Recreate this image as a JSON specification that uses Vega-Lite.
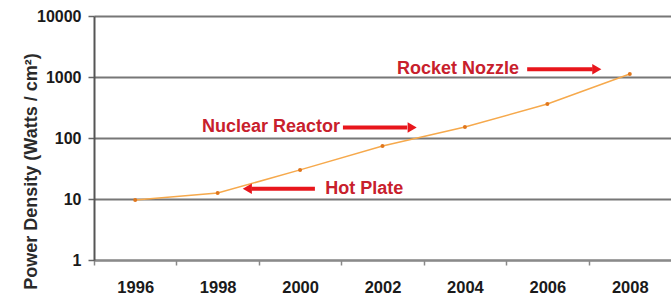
{
  "$schema": "https://vega.github.io/schema/vega-lite/v6.json",
  "width": 577,
  "height": 244,
  "autosize": {"type": "none"},
  "padding": {"left": 94, "top": 16, "right": 0, "bottom": 42},
  "background": "white",
  "config": {
    "view": {"stroke": null},
    "font": "Liberation Sans",
    "axis": {"labelFont": "Liberation Sans", "titleFont": "Liberation Sans"}
  },
  "datasets": {
    "series": [
      {"year": 1996, "value": 9.6},
      {"year": 1998, "value": 12.5},
      {"year": 2000, "value": 30},
      {"year": 2002, "value": 74},
      {"year": 2004, "value": 151},
      {"year": 2006, "value": 361},
      {"year": 2008, "value": 1120}
    ],
    "notes": [
      {"label": "Rocket Nozzle", "tx": 2002.35, "ty": 1342, "ax": 2005.51, "ax2": 2007.1, "hx": 2007.2, "dir": "right"},
      {"label": "Nuclear Reactor", "tx": 1997.62, "ty": 149, "ax": 2001.04, "ax2": 2002.6, "hx": 2002.72, "dir": "right"},
      {"label": "Hot Plate", "tx": 2000.61, "ty": 14.75, "ax": 2000.36, "ax2": 1998.82, "hx": 1998.72, "dir": "left"}
    ]
  },
  "layer": [
    {
      "data": {"name": "series"},
      "mark": {"type": "line", "color": "#f6a94c", "strokeWidth": 1.5},
      "encoding": {
        "x": {
          "field": "year",
          "type": "quantitative",
          "scale": {"domain": [1995, 2009], "nice": false, "zero": false},
          "axis": {
            "values": [1996, 1998, 2000, 2002, 2004, 2006, 2008],
            "format": "d",
            "title": null,
            "grid": false,
            "tickOffset": -41.2,
            "labelOffset": 41.2,
            "tickSize": 5,
            "tickColor": "#888888",
            "tickWidth": 1.5,
            "domainColor": "#8a8a8a",
            "domainWidth": 2,
            "labelFontSize": 16.5,
            "labelFontWeight": "bold",
            "labelColor": "#1a1a1a",
            "labelPadding": 14
          }
        },
        "y": {
          "field": "value",
          "type": "quantitative",
          "scale": {"type": "log", "domain": [1, 10000], "nice": false},
          "axis": {
            "values": [1, 10, 100, 1000, 10000],
            "format": "d",
            "title": "Power Density (Watts / cm²)",
            "titleFontSize": 18,
            "titleFontWeight": "bold",
            "titleColor": "#2a2a2a",
            "titleAngle": -90,
            "titleX": -63,
            "titleY": 155,
            "titleAlign": "center",
            "titleBaseline": "middle",
            "grid": true,
            "gridColor": "#777777",
            "gridWidth": 2,
            "gridOpacity": 1,
            "tickSize": 6,
            "tickColor": "#666666",
            "tickWidth": 1.5,
            "domainColor": "#555555",
            "domainWidth": 2,
            "labelFontSize": 16,
            "labelFontWeight": "bold",
            "labelColor": "#1a1a1a",
            "labelPadding": 7
          }
        }
      }
    },
    {
      "data": {"name": "series"},
      "mark": {"type": "point", "filled": true, "color": "#e0761c", "size": 16, "opacity": 1},
      "encoding": {
        "x": {"field": "year", "type": "quantitative"},
        "y": {"field": "value", "type": "quantitative"}
      }
    },
    {
      "data": {"name": "notes"},
      "mark": {"type": "rule", "color": "#e8161c", "strokeWidth": 4},
      "encoding": {
        "x": {"field": "ax", "type": "quantitative"},
        "x2": {"field": "ax2"},
        "y": {"field": "ty", "type": "quantitative"}
      }
    },
    {
      "data": {"name": "notes"},
      "mark": {"type": "point", "filled": true, "color": "#e8161c", "size": 110, "opacity": 1},
      "encoding": {
        "x": {"field": "hx", "type": "quantitative"},
        "y": {"field": "ty", "type": "quantitative"},
        "shape": {
          "field": "dir",
          "type": "nominal",
          "scale": {"domain": ["right", "left"], "range": ["triangle-right", "triangle-left"]},
          "legend": null
        }
      }
    },
    {
      "data": {"name": "notes"},
      "mark": {"type": "text", "color": "#c8202c", "fontSize": 18, "fontWeight": "bold", "align": "left", "baseline": "middle", "font": "Liberation Sans"},
      "encoding": {
        "x": {"field": "tx", "type": "quantitative"},
        "y": {"field": "ty", "type": "quantitative"},
        "text": {"field": "label"}
      }
    }
  ]
}
